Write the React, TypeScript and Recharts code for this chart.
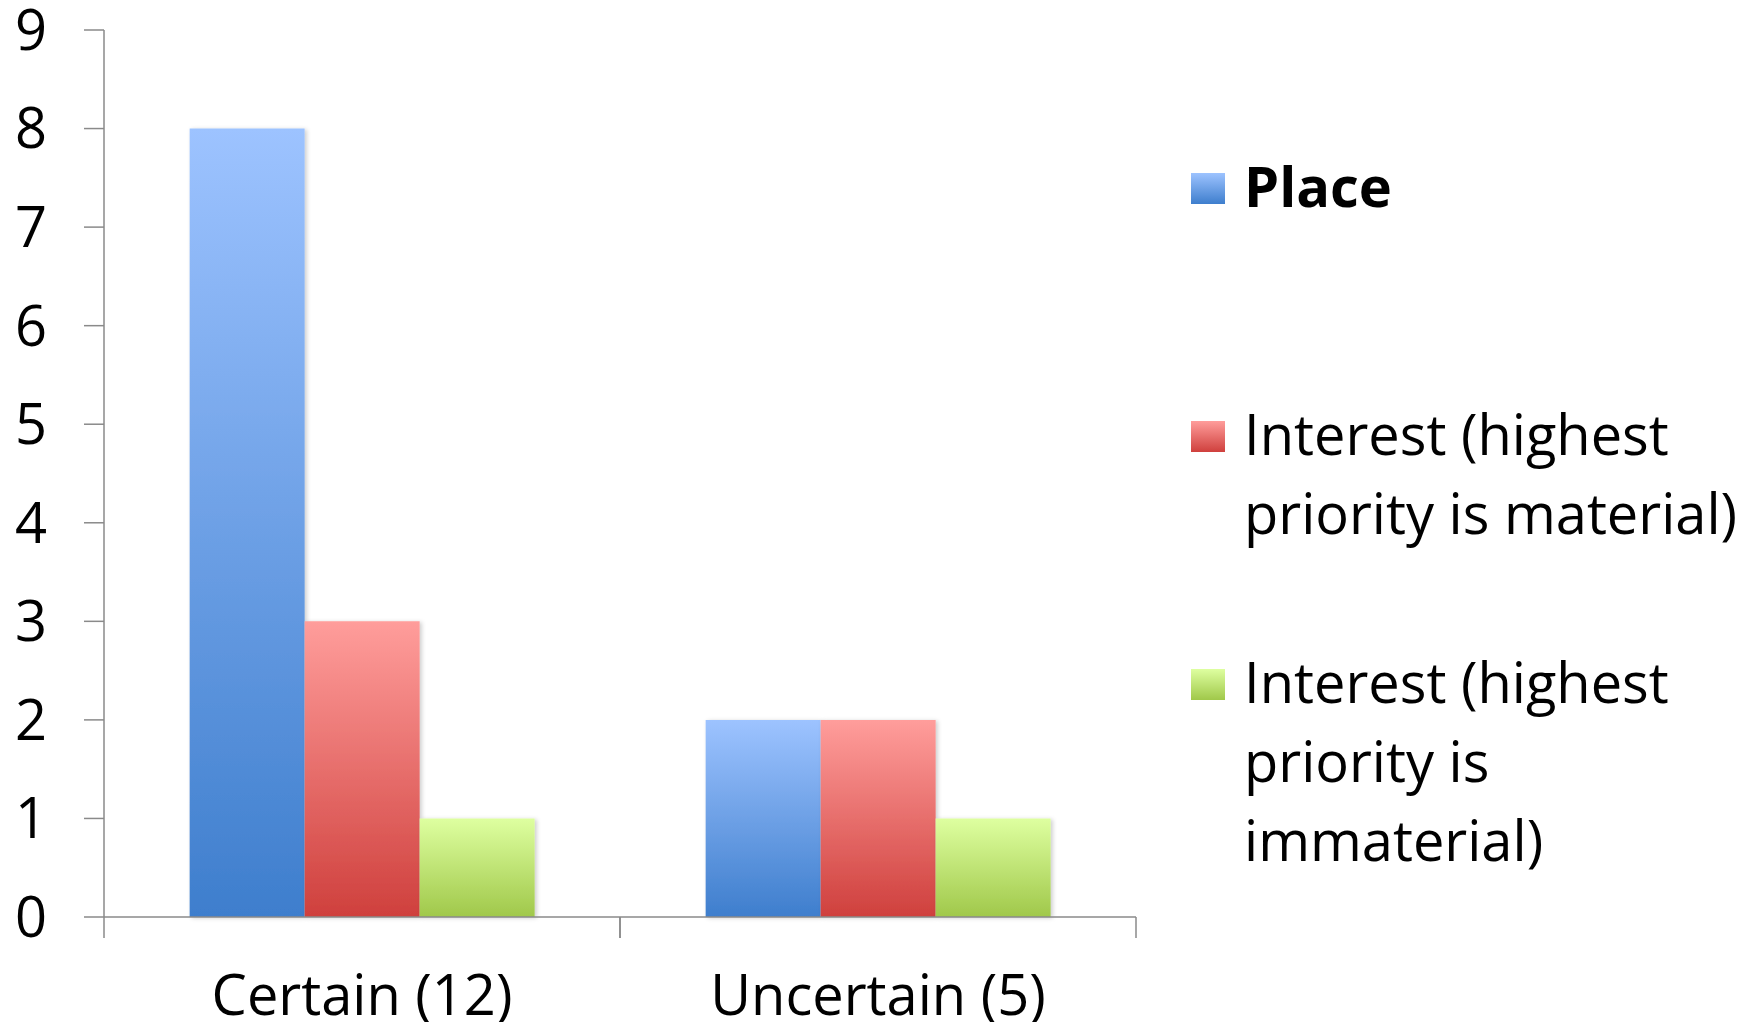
import { BarChart, Bar, XAxis, YAxis, Legend } from "recharts";

const CATEGORIES = ["Certain (12)", "Uncertain (5)"];
const PLACE = [8, 2];
const MATERIAL = [3, 2];
const IMMATERIAL = [1, 1];
const Y_TICKS = [0, 1, 2, 3, 4, 5, 6, 7, 8, 9];

const SERIES = [
  { key: "place", name: "Place", top: "#9dc3ff", bottom: "#3e7ecd", bold: true },
  { key: "material", name: "Interest (highest priority is material)", top: "#ff9d9b", bottom: "#cf403d", bold: false },
  { key: "immaterial", name: "Interest (highest priority is immaterial)", top: "#deffa0", bottom: "#a0c84a", bold: false },
];

const data = CATEGORIES.map((name, i) => ({
  name,
  place: PLACE[i],
  material: MATERIAL[i],
  immaterial: IMMATERIAL[i],
}));

const FONT = "'Open Sans', 'Noto Sans', sans-serif";
const AXIS = "#8a8a8a";
const X_TICK_SIZE = 21;
const X_TICK_MARGIN = 37;

function CategoryTick(props: any) {
  const { x, y, payload, width } = props;
  const half = (width ?? 1032) / CATEGORIES.length / 2;
  const axisY = y - X_TICK_SIZE - X_TICK_MARGIN;
  return (
    <g>
      <line x1={x - half} x2={x - half} y1={axisY} y2={axisY + X_TICK_SIZE} stroke={AXIS} strokeWidth={1.5} />
      <line x1={x + half} x2={x + half} y1={axisY} y2={axisY + X_TICK_SIZE} stroke={AXIS} strokeWidth={1.5} />
      <text x={x} y={y} dy="0.71em" textAnchor="middle" fill="#000" fontSize={56} fontFamily={FONT}>
        {payload.value}
      </text>
    </g>
  );
}

function LegendContent({ payload }: any) {
  const order = (k: string) => SERIES.findIndex((d) => d.key === k);
  const items = [...(payload ?? [])].sort((a: any, b: any) => order(a.dataKey) - order(b.dataKey));
  return (
    <div style={{ fontFamily: FONT, fontSize: 56, lineHeight: "79px", color: "#000" }}>
      {items.map((entry: any) => {
        const s = SERIES.find((d) => d.key === entry.dataKey) ?? SERIES[0];
        return (
          <div key={s.key} style={{ display: "flex", alignItems: "flex-start", height: 248 }}>
            <div
              style={{
                width: 34,
                height: 31,
                marginTop: 27,
                marginRight: 19,
                flex: "none",
                background: `linear-gradient(${s.top}, ${s.bottom})`,
              }}
            />
            <div style={{ width: 510, fontWeight: s.bold ? 700 : 400 }}>{entry.value}</div>
          </div>
        );
      })}
    </div>
  );
}

export default function App() {
  return (
    <div style={{ margin: -8, width: 1754, height: 1030, background: "#fff" }}>
      <BarChart
        width={1754}
        height={1030}
        data={data}
        margin={{ top: 30, right: 618, bottom: 0, left: 0 }}
        barCategoryGap="16.6%"
        barGap={0}
      >
        <defs>
          {SERIES.map((s) => (
            <linearGradient key={s.key} id={`grad-${s.key}`} x1="0" y1="0" x2="0" y2="1">
              <stop offset="0%" stopColor={s.top} />
              <stop offset="100%" stopColor={s.bottom} />
            </linearGradient>
          ))}
          <filter id="barShadow" x="-10%" y="-10%" width="130%" height="130%">
            <feDropShadow dx="2" dy="1" stdDeviation="2" floodColor="#000" floodOpacity="0.2" />
          </filter>
        </defs>
        <XAxis
          dataKey="name"
          interval={0}
          height={113}
          stroke={AXIS}
          strokeWidth={1.5}
          tickLine={false}
          tickSize={X_TICK_SIZE}
          tickMargin={X_TICK_MARGIN}
          tick={<CategoryTick />}
        />
        <YAxis
          domain={[0, 9]}
          ticks={Y_TICKS}
          interval={0}
          width={104}
          stroke={AXIS}
          strokeWidth={1.5}
          tickSize={20}
          tickMargin={37}
          tick={{ fill: "#000", fontSize: 56, fontFamily: FONT }}
        />
        <Legend
          layout="vertical"
          align="center"
          verticalAlign="middle"
          content={<LegendContent />}
          wrapperStyle={{ left: 1191, top: 146, width: 560 }}
        />
        {SERIES.map((s) => (
          <Bar
            key={s.key}
            dataKey={s.key}
            name={s.name}
            fill={`url(#grad-${s.key})`}
            filter="url(#barShadow)"
            isAnimationActive={false}
          />
        ))}
      </BarChart>
    </div>
  );
}
